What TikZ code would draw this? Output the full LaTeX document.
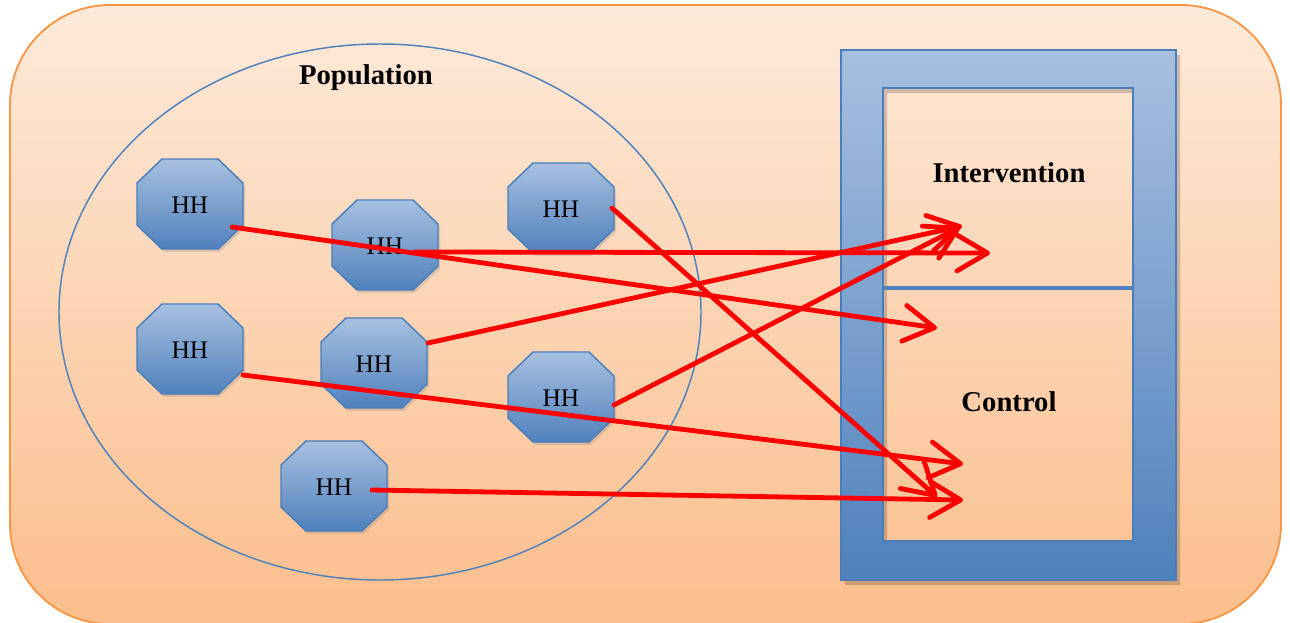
\documentclass[tikz,border=0pt]{standalone}
\usepackage{fontspec}
\setmainfont{Liberation Serif}
\usetikzlibrary{arrows.meta,shadows}
\definecolor{bgtop}{RGB}{253,234,218}
\definecolor{bgbot}{RGB}{251,190,140}
\definecolor{bgedge}{RGB}{247,150,70}
\definecolor{bltop}{RGB}{168,192,223}
\definecolor{blbot}{RGB}{79,129,189}
\definecolor{bledge}{RGB}{74,126,187}
\definecolor{arrred}{RGB}{255,0,0}
\newcommand\hhoct[3]{%
  \begin{scope}[shift={(#2,#3)}]
    \shadedraw[octfill] (-28,-45) -- (28,-45) -- (53,-21) -- (53,21) -- (28,45) -- (-28,45) -- (-53,21) -- (-53,-21) -- cycle;
    \node[hhtext] (#1) at (0,1) {HH};
  \end{scope}}
\begin{document}
\begin{tikzpicture}[x=0.75pt,y=-0.75pt,
  octfill/.style={top color=bltop,bottom color=blbot,draw=bledge,line width=1.1pt,
    drop shadow={shadow xshift=1.5pt,shadow yshift=-2.2pt,opacity=0.25}},
  hhtext/.style={inner sep=0pt,font=\fontsize{19}{22}\selectfont},
  lab/.style={inner sep=0pt,font=\bfseries\fontsize{21.5}{24}\selectfont},
  conn/.style={draw=arrred,line width=3.6pt,line cap=round,
    -{Straight Barb[length=23pt,width=27pt,round]}}]
\useasboundingbox (0,0) rectangle (1290,622);
\fill[white] (0,0) rectangle (1290,622);
% background rounded panel
\shadedraw[top color=bgtop,bottom color=bgbot,draw=bgedge,line width=1.4pt,rounded corners=75pt]
  (10,5) rectangle (1281,624);
% population ellipse
\draw[blbot,line width=1.1pt] (380,312) ellipse [x radius=321,y radius=268];
\node[lab] (pop) at (366,78) {Population};
% right frame
\fill[black,opacity=0.18,even odd rule] (845,55) rectangle (1180,585) (887,93) rectangle (1137,546);
\shadedraw[top color=bltop,bottom color=blbot,draw=bledge,line width=1pt,even odd rule]
  (841,50) rectangle (1176,580) (883,88) rectangle (1133,541);
\draw[blbot,line width=3pt] (883,288) -- (1133,288);
\node[lab] (int) at (1009,173) {Intervention};
\node[lab] (ctl) at (1009,402) {Control};
% households
\hhoct{h1}{190}{204}
\hhoct{h2}{385}{245}
\hhoct{h3}{561}{208}
\hhoct{h4}{190}{349}
\hhoct{h5}{374}{363}
\hhoct{h6}{561}{397}
\hhoct{h7}{334}{486}
% arrow end points
\coordinate (s1) at (232,227);
\coordinate (s2) at (415,252);
\coordinate (s3) at (612,208);
\coordinate (s4) at (243,375);
\coordinate (s5) at (428,343);
\coordinate (s6) at (614,405);
\coordinate (s7) at (372,490);
\coordinate (t1) at (937,328);
\coordinate (t2) at (990,253);
\coordinate (t3) at (937,497);
\coordinate (t4) at (963,464);
\coordinate (t5) at (962,226);
\coordinate (t6) at (960,227);
\coordinate (t7) at (963,500);
\draw[conn] (s1) -- (t1);
\draw[conn] (s2) -- (t2);
\draw[conn] (s3) -- (t3);
\draw[conn] (s4) -- (t4);
\draw[conn] (s5) -- (t5);
\draw[conn] (s6) -- (t6);
\draw[conn] (s7) -- (t7);
\end{tikzpicture}
\end{document}
